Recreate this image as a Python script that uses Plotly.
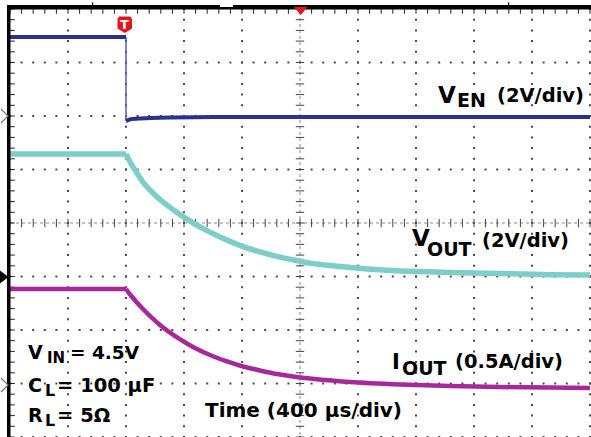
import plotly.graph_objects as go

# ---------------- data (read from the scope capture) ----------------
# time in microseconds (400 us/div, trigger at -1200 us)
ven_hi_t = [-2000, -1200]
ven_hi_v = [2.95, 2.95]
ven_lo_t = [-1200, -1170, -1100, -900, -600, 2000]
ven_lo_v = [-0.19, -0.12, -0.09, -0.06, -0.04, -0.04]

vout_t = [-2000, -1200, -1172, -1138, -1083, -1021, -966, -910, -848, -793, -724,
          -621, -503, -393, -276, -159, -48, 69, 207, 345, 517, 690, 1034, 1379, 1724, 2000]
vout_v = [4.58, 4.58, 4.28, 3.98, 3.53, 3.16, 2.88, 2.64, 2.39, 2.19, 1.96,
          1.66, 1.36, 1.12, 0.92, 0.75, 0.62, 0.50, 0.41, 0.34, 0.26, 0.21, 0.15, 0.11, 0.07, 0.06]

iout_t = [-2000, -1200, -1172, -1083, -966, -848, -738, -621, -503, -393, -276,
          -159, -48, 69, 345, 690, 1034, 1379, 1724, 2000]
iout_a = [0.925, 0.925, 0.874, 0.738, 0.589, 0.472, 0.383, 0.308, 0.248, 0.201, 0.164,
          0.131, 0.107, 0.089, 0.056, 0.033, 0.019, 0.009, 0.005, 0.0]

# channel scales (units per division) and ground offsets (divisions)
VEN_SCALE, VEN_OFF = 2.0, 2.0
VOUT_SCALE, VOUT_OFF = 2.0, -1.0
IOUT_SCALE, IOUT_OFF = 0.5, -3.084

# ---------------- geometry ----------------
W, H = 591, 437
X0, XDIV, US_DIV = 300.0, 58.0, 400.0
Y0, YDIV = 223.0, 53.5


def px2t(px):
    return (px - X0) / XDIV * US_DIV


def py2d(py):
    return (Y0 - py) / YDIV


fig = go.Figure()

# ---------------- graticule ----------------
DOT = '#4a4a4a'
minor_x = [-2000 + 80 * i for i in range(51)]
minor_y = [-4 + 0.2 * j for j in range(41)]
major_x = [-2000 + 400 * k for k in range(1, 11) if k != 5]
major_y = [k for k in range(-4, 4) if k != 0]

gx, gy = [], []
for mx in major_x:
    for yy in minor_y:
        gx.append(mx); gy.append(yy)
for my in major_y:
    for xx in minor_x:
        gx.append(xx); gy.append(my)
fig.add_trace(go.Scatter(x=gx, y=gy, mode='markers', hoverinfo='skip',
                         marker=dict(symbol='square', size=2, color=DOT, line=dict(width=0))))

# centre lines (dotted with ticks)
fig.add_trace(go.Scatter(x=[px2t(10), px2t(591)], y=[0, 0], mode='lines', hoverinfo='skip',
                         line=dict(color='#8a8a8a', width=1, dash='dot')))
fig.add_trace(go.Scatter(x=[0, 0], y=[py2d(12), -4.2], mode='lines', hoverinfo='skip',
                         line=dict(color='#8a8a8a', width=1, dash='dot')))
fig.add_trace(go.Scatter(x=minor_x, y=[0] * len(minor_x), mode='markers', hoverinfo='skip',
                         marker=dict(symbol='line-ns', size=6, line=dict(width=1, color='#444'))))
fig.add_trace(go.Scatter(x=[0] * len(minor_y), y=minor_y, mode='markers', hoverinfo='skip',
                         marker=dict(symbol='line-ew', size=6, line=dict(width=1, color='#444'))))

# border ticks (top and left)
fig.add_trace(go.Scatter(x=minor_x, y=[py2d(11)] * len(minor_x), mode='markers', hoverinfo='skip',
                         marker=dict(symbol='line-ns', size=4, line=dict(width=1, color='#222'))))
fig.add_trace(go.Scatter(x=[px2t(12)] * len(minor_y), y=minor_y, mode='markers', hoverinfo='skip',
                         marker=dict(symbol='line-ew', size=4, line=dict(width=1, color='#222'))))

# ---------------- waveforms ----------------
C_VEN, C_VOUT, C_IOUT = '#27338e', '#7dcdc9', '#a7289a'

vout_y = [VOUT_OFF + v / VOUT_SCALE for v in vout_v]
iout_y = [IOUT_OFF + a / IOUT_SCALE for a in iout_a]

# flat part before the trigger and smooth decay after it
fig.add_trace(go.Scatter(x=vout_t[:2], y=vout_y[:2], mode='lines',
                         line=dict(color=C_VOUT, width=5.5), hoverinfo='skip'))
fig.add_trace(go.Scatter(x=vout_t[1:], y=vout_y[1:], mode='lines',
                         line=dict(color=C_VOUT, width=5.5, shape='spline', smoothing=0.8), hoverinfo='skip'))
fig.add_trace(go.Scatter(x=iout_t[:2], y=iout_y[:2], mode='lines',
                         line=dict(color=C_IOUT, width=4.5), hoverinfo='skip'))
fig.add_trace(go.Scatter(x=iout_t[1:], y=iout_y[1:], mode='lines',
                         line=dict(color=C_IOUT, width=4.5, shape='spline', smoothing=0.8), hoverinfo='skip'))
# enable edge (thin)
fig.add_trace(go.Scatter(x=[ven_hi_t[-1], ven_lo_t[0]],
                         y=[VEN_OFF + ven_hi_v[-1] / VEN_SCALE, VEN_OFF + ven_lo_v[0] / VEN_SCALE],
                         mode='lines', line=dict(color='#5660b0', width=1.5), hoverinfo='skip'))
fig.add_trace(go.Scatter(x=ven_hi_t, y=[VEN_OFF + v / VEN_SCALE for v in ven_hi_v], mode='lines',
                         line=dict(color=C_VEN, width=4), hoverinfo='skip'))
fig.add_trace(go.Scatter(x=ven_lo_t, y=[VEN_OFF + v / VEN_SCALE for v in ven_lo_v], mode='lines',
                         line=dict(color=C_VEN, width=4, shape='spline', smoothing=0.6), hoverinfo='skip'))

# ---------------- frame & indicators (shapes) ----------------
shapes = []
# top border
shapes.append(dict(type='rect', xref='x', yref='y', x0=px2t(7), x1=px2t(592), y0=py2d(9.5), y1=py2d(5),
                   fillcolor='black', line=dict(width=0)))
# notch in top border
shapes.append(dict(type='rect', xref='x', yref='y', x0=px2t(220), x1=px2t(233), y0=py2d(7), y1=py2d(4.5),
                   fillcolor='white', line=dict(width=0)))
for tx in (92, 508):
    shapes.append(dict(type='rect', xref='x', yref='y', x0=px2t(tx), x1=px2t(tx + 1.2), y0=py2d(5), y1=py2d(2.5),
                       fillcolor='black', line=dict(width=0)))
# left border
shapes.append(dict(type='rect', xref='x', yref='y', x0=px2t(7), x1=px2t(10.5), y0=py2d(438), y1=py2d(5),
                   fillcolor='black', line=dict(width=0)))


def path(points):
    s = ''
    for i, (px, py) in enumerate(points):
        s += ('M' if i == 0 else 'L') + f'{px2t(px):.3f},{py2d(py):.4f} '
    return s


# trigger position marker (red triangle at top centre)
shapes.append(dict(type='path', xref='x', yref='y', path=path([(294, 7), (307.5, 7), (300.8, 15)]) + 'Z',
                   fillcolor='#e8141b', line=dict(width=0)))
# "T" trigger badge
badge = [(117.5, 19), (119, 16.5), (130.5, 16.5), (132, 19), (132, 28.5), (124.8, 33), (117.5, 28.5)]
shapes.append(dict(type='path', xref='x', yref='y', path=path(badge) + 'Z',
                   fillcolor='#e8141b', line=dict(width=0)))
# channel ground markers on the left
shapes.append(dict(type='path', xref='x', yref='y', path=path([(1, 109), (8, 116), (1, 123)]),
                   line=dict(color='#777', width=1.2)))
shapes.append(dict(type='path', xref='x', yref='y', path=path([(1, 378), (8, 385), (1, 392)]),
                   line=dict(color='#777', width=1.2)))
shapes.append(dict(type='path', xref='x', yref='y', path=path([(0, 270.5), (8.5, 277), (0, 283.5)]) + 'Z',
                   fillcolor='black', line=dict(width=0)))

# ---------------- text ----------------
FONT = 'DejaVu Sans'
ann = []


def txt(s, px, py, size, color='black'):
    ann.append(dict(text='<b>' + s + '</b>', x=px / W, y=1 - py / H, xref='paper', yref='paper',
                    xanchor='left', yanchor='middle', showarrow=False, borderpad=0,
                    font=dict(family=FONT, size=size, color=color)))


txt('T', 119.2, 24.5, 13, 'white')

txt('V', 437, 95, 23)
txt('EN', 456, 100.5, 19)
txt('(2V/div)', 496, 96, 19.5)

txt('V', 411, 238.5, 23)
txt('OUT', 426, 248.5, 19)
txt('(2V/div)', 481, 240, 19.5)

txt('I', 391, 361.5, 21)
txt('OUT', 401, 367.5, 19)
txt('(0.5A/div)', 454, 361, 19.5)

txt('V', 27, 352, 19)
txt('IN', 46, 358, 15)
txt('= 4.5V', 69, 352, 18.5)

txt('C', 27, 385, 19)
txt('L', 44, 390.5, 16)
txt('= 100 µF', 56, 385, 19.5)

txt('R', 27, 415, 19)
txt('L', 44, 420.5, 16)
txt('= 5Ω', 56, 415, 19.5)

txt('Time (400 µs/div)', 204, 410, 20)

fig.update_layout(
    width=W, height=H, margin=dict(l=0, r=0, t=0, b=0),
    paper_bgcolor='white', plot_bgcolor='white', showlegend=False,
    xaxis=dict(range=[px2t(0), px2t(W)], visible=False, fixedrange=True),
    yaxis=dict(range=[py2d(H), py2d(0)], visible=False, fixedrange=True),
    shapes=shapes, annotations=ann,
)

fig.write_html('out.html')
